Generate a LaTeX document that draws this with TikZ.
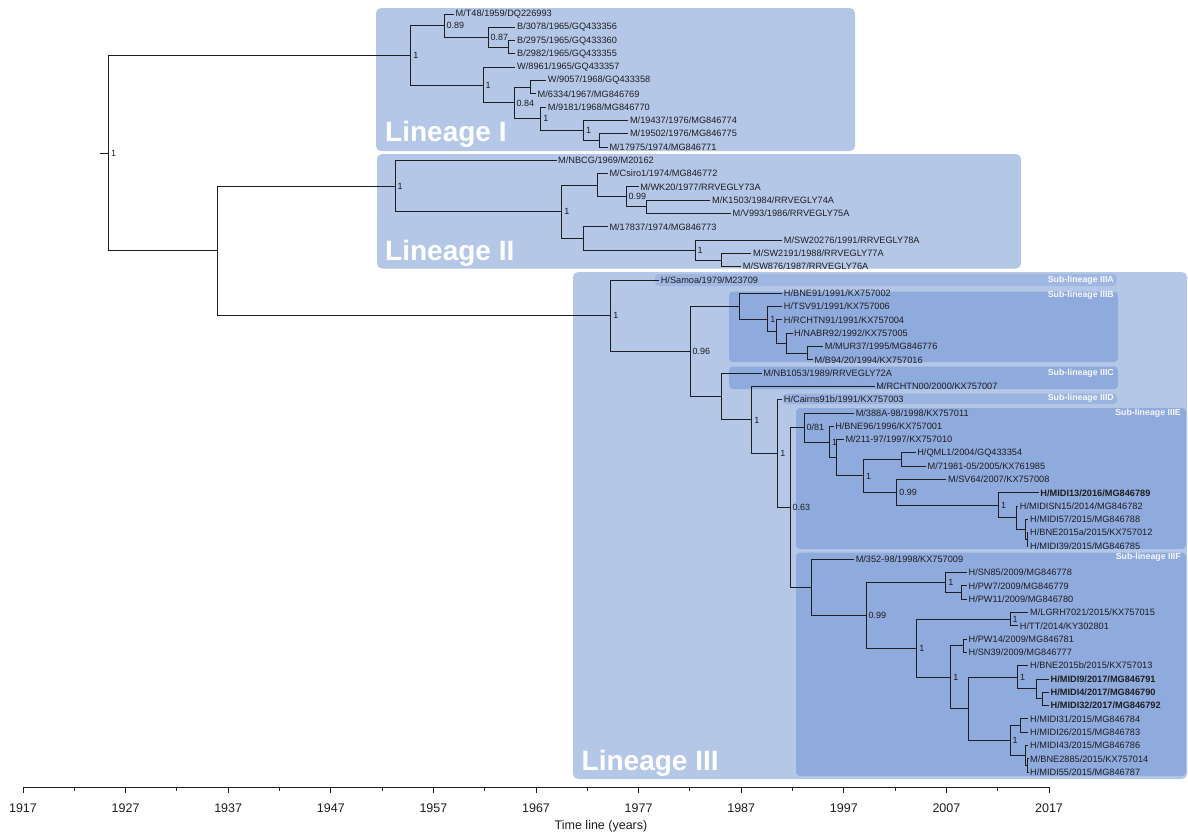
\documentclass[tikz,border=0pt]{standalone}
\usepackage{fontspec}
\setmainfont{Liberation Sans}
\usetikzlibrary{positioning, calc}
\definecolor{lincolor}{RGB}{180,199,231}
\definecolor{subcolor}{RGB}{143,170,220}
\definecolor{inkcolor}{RGB}{30,30,34}
% x of a sampling year, y of a tip (tips are 13.3px apart)
\newcommand{\yrx}[1]{23+(#1-1917)*10.26}
\newcommand{\lfy}[1]{14+13.3*(#1)}

\begin{document}
\begin{tikzpicture}[x=1pt, y=-1pt,
    branch/.style={draw=inkcolor, line width=1pt},
    leaf/.style={anchor=west, inner sep=1.5pt, text=inkcolor, font=\fontsize{9.2}{10}\selectfont},
    leafbold/.style={leaf, font=\fontsize{9.2}{10}\selectfont\bfseries},
    post/.style={anchor=west, inner sep=1pt, xshift=1.5pt, text=inkcolor, font=\fontsize{9}{10}\selectfont},
    linbox/.style={fill=lincolor, rounded corners=5pt},
    subbox/.style={fill=subcolor, rounded corners=4pt},
    linlab/.style={anchor=base west, inner sep=0pt, text=white, font=\fontsize{28}{30}\selectfont\bfseries},
    sublab/.style={anchor=east, inner sep=0pt, text=white!92!subcolor, font=\fontsize{8.8}{9}\selectfont\bfseries},
    axis/.style={draw=inkcolor, line width=1pt},
    yearlab/.style={inner sep=0pt, text=inkcolor, font=\fontsize{12.5}{14}\selectfont}]

    \useasboundingbox (0,0) rectangle (1188,835);

    % Lineage boxes
    \fill[linbox] (376,8) rectangle (855,151);
    \fill[linbox] (377,154) rectangle (1021,268.5);
    \fill[linbox] (573,272) rectangle (1187,779);
    \fill[subbox, fill=subcolor!55!lincolor] (655,274) rectangle (1117,286);
    \fill[subbox] (729,291.5) rectangle (1118,362);
    \fill[subbox] (729,366.5) rectangle (1118,389);
    \fill[subbox, fill=subcolor!70!lincolor] (783,393.5) rectangle (1117,404);
    \fill[subbox] (796,408) rectangle (1186,549);
    \fill[subbox] (796,552.5) rectangle (1186,776);

    \node[linlab] (labI) at (385,141.7) {Lineage I};
    \node[linlab] (labII) at (385,260.5) {Lineage II};
    \node[linlab] (labIII) at (581.5,770) {Lineage III};
    \node[sublab] (subA) at (1114,280) {Sub-lineage IIIA};
    \node[sublab] (subB) at (1114,295) {Sub-lineage IIIB};
    \node[sublab] (subC) at (1114,373.5) {Sub-lineage IIIC};
    \node[sublab] (subD) at (1114,398.5) {Sub-lineage IIID};
    \node[sublab] (subE) at (1181,413) {Sub-lineage IIIE};
    \node[sublab] (subF) at (1181,557) {Sub-lineage IIIF};

    % Tips
    \node[leaf] (t0) at ({\yrx{1959}},{\lfy{0}}) {M/T48/1959/DQ226993};
    \node[leaf] (t1) at ({\yrx{1965}},{\lfy{1}}) {B/3078/1965/GQ433356};
    \node[leaf] (t2) at ({\yrx{1965}},{\lfy{2}}) {B/2975/1965/GQ433360};
    \node[leaf] (t3) at ({\yrx{1965}},{\lfy{3}}) {B/2982/1965/GQ433355};
    \node[leaf] (t4) at ({\yrx{1965}},{\lfy{4}}) {W/8961/1965/GQ433357};
    \node[leaf] (t5) at ({\yrx{1968}},{\lfy{5}}) {W/9057/1968/GQ433358};
    \node[leaf] (t6) at ({\yrx{1967}},{\lfy{6}}) {M/6334/1967/MG846769};
    \node[leaf] (t7) at ({\yrx{1968}},{\lfy{7}}) {M/9181/1968/MG846770};
    \node[leaf] (t8) at ({\yrx{1976}},{\lfy{8}}) {M/19437/1976/MG846774};
    \node[leaf] (t9) at ({\yrx{1976}},{\lfy{9}}) {M/19502/1976/MG846775};
    \node[leaf] (t10) at ({\yrx{1974}},{\lfy{10}}) {M/17975/1974/MG846771};
    \node[leaf] (t11) at ({\yrx{1969}},{\lfy{11}}) {M/NBCG/1969/M20162};
    \node[leaf] (t12) at ({\yrx{1974}},{\lfy{12}}) {M/Csiro1/1974/MG846772};
    \node[leaf] (t13) at ({\yrx{1977}},{\lfy{13}}) {M/WK20/1977/RRVEGLY73A};
    \node[leaf] (t14) at ({\yrx{1984}},{\lfy{14}}) {M/K1503/1984/RRVEGLY74A};
    \node[leaf] (t15) at ({\yrx{1986}},{\lfy{15}}) {M/V993/1986/RRVEGLY75A};
    \node[leaf] (t16) at ({\yrx{1974}},{\lfy{16}}) {M/17837/1974/MG846773};
    \node[leaf] (t17) at ({\yrx{1991}},{\lfy{17}}) {M/SW20276/1991/RRVEGLY78A};
    \node[leaf] (t18) at ({\yrx{1988}},{\lfy{18}}) {M/SW2191/1988/RRVEGLY77A};
    \node[leaf] (t19) at ({\yrx{1987}},{\lfy{19}}) {M/SW876/1987/RRVEGLY76A};
    \node[leaf] (t20) at ({\yrx{1979}},{\lfy{20}}) {H/Samoa/1979/M23709};
    \node[leaf] (t21) at ({\yrx{1991}},{\lfy{21}}) {H/BNE91/1991/KX757002};
    \node[leaf] (t22) at ({\yrx{1991}},{\lfy{22}}) {H/TSV91/1991/KX757006};
    \node[leaf] (t23) at ({\yrx{1991}},{\lfy{23}}) {H/RCHTN91/1991/KX757004};
    \node[leaf] (t24) at ({\yrx{1992}},{\lfy{24}}) {H/NABR92/1992/KX757005};
    \node[leaf] (t25) at ({\yrx{1995}},{\lfy{25}}) {M/MUR37/1995/MG846776};
    \node[leaf] (t26) at ({\yrx{1994}},{\lfy{26}}) {M/B94/20/1994/KX757016};
    \node[leaf] (t27) at ({\yrx{1989}},{\lfy{27}}) {M/NB1053/1989/RRVEGLY72A};
    \node[leaf] (t28) at ({\yrx{2000}},{\lfy{28}}) {M/RCHTN00/2000/KX757007};
    \node[leaf] (t29) at ({\yrx{1991}},{\lfy{29}}) {H/Cairns91b/1991/KX757003};
    \node[leaf] (t30) at ({\yrx{1998}},{\lfy{30}}) {M/388A-98/1998/KX757011};
    \node[leaf] (t31) at ({\yrx{1996}},{\lfy{31}}) {H/BNE96/1996/KX757001};
    \node[leaf] (t32) at ({\yrx{1997}},{\lfy{32}}) {M/211-97/1997/KX757010};
    \node[leaf] (t33) at ({\yrx{2004}},{\lfy{33}}) {H/QML1/2004/GQ433354};
    \node[leaf] (t34) at ({\yrx{2005}},{\lfy{34}}) {M/71981-05/2005/KX761985};
    \node[leaf] (t35) at ({\yrx{2007}},{\lfy{35}}) {M/SV64/2007/KX757008};
    \node[leafbold] (t36) at ({\yrx{2016}},{\lfy{36}}) {H/MIDI13/2016/MG846789};
    \node[leaf] (t37) at ({\yrx{2014}},{\lfy{37}}) {H/MIDISN15/2014/MG846782};
    \node[leaf] (t38) at ({\yrx{2015}},{\lfy{38}}) {H/MIDI57/2015/MG846788};
    \node[leaf] (t39) at ({\yrx{2015}},{\lfy{39}}) {H/BNE2015a/2015/KX757012};
    \node[leaf] (t40) at ({\yrx{2015}},{\lfy{40}}) {H/MIDI39/2015/MG846785};
    \node[leaf] (t41) at ({\yrx{1998}},{\lfy{41}}) {M/352-98/1998/KX757009};
    \node[leaf] (t42) at ({\yrx{2009}},{\lfy{42}}) {H/SN85/2009/MG846778};
    \node[leaf] (t43) at ({\yrx{2009}},{\lfy{43}}) {H/PW7/2009/MG846779};
    \node[leaf] (t44) at ({\yrx{2009}},{\lfy{44}}) {H/PW11/2009/MG846780};
    \node[leaf] (t45) at ({\yrx{2015}},{\lfy{45}}) {M/LGRH7021/2015/KX757015};
    \node[leaf] (t46) at ({\yrx{2014}},{\lfy{46}}) {H/TT/2014/KY302801};
    \node[leaf] (t47) at ({\yrx{2009}},{\lfy{47}}) {H/PW14/2009/MG846781};
    \node[leaf] (t48) at ({\yrx{2009}},{\lfy{48}}) {H/SN39/2009/MG846777};
    \node[leaf] (t49) at ({\yrx{2015}},{\lfy{49}}) {H/BNE2015b/2015/KX757013};
    \node[leafbold] (t50) at ({\yrx{2017}},{\lfy{50}}) {H/MIDI9/2017/MG846791};
    \node[leafbold] (t51) at ({\yrx{2017}},{\lfy{51}}) {H/MIDI4/2017/MG846790};
    \node[leafbold] (t52) at ({\yrx{2017}},{\lfy{52}}) {H/MIDI32/2017/MG846792};
    \node[leaf] (t53) at ({\yrx{2015}},{\lfy{53}}) {H/MIDI31/2015/MG846784};
    \node[leaf] (t54) at ({\yrx{2015}},{\lfy{54}}) {H/MIDI26/2015/MG846783};
    \node[leaf] (t55) at ({\yrx{2015}},{\lfy{55}}) {H/MIDI43/2015/MG846786};
    \node[leaf] (t56) at ({\yrx{2015}},{\lfy{56}}) {M/BNE2885/2015/KX757014};
    \node[leaf] (t57) at ({\yrx{2015}},{\lfy{57}}) {H/MIDI55/2015/MG846787};

    % Internal nodes
    \coordinate (stub) at (99.5,{\lfy{10.46}});
    \coordinate (root) at (108.3,{\lfy{10.46}});
    \coordinate (split) at (217.4,{\lfy{17.81}});
    % lineage I
    \coordinate (linI) at (410.7,{\lfy{3.1094}});
    \coordinate (nA) at (444,{\lfy{0.875}});
    \coordinate (bC) at (488,{\lfy{1.75}});
    \coordinate (bI) at (508,{\lfy{2.5}});
    \coordinate (wC) at (483,{\lfy{5.3438}});
    \coordinate (n84) at (514,{\lfy{6.6875}});
    \coordinate (wI) at (530.7,{\lfy{5.5}});
    \coordinate (mK) at (540.7,{\lfy{7.875}});
    \coordinate (mJ) at (583.3,{\lfy{8.75}});
    \coordinate (mI) at (599.3,{\lfy{9.5}});
    % lineage II
    \coordinate (linII) at (395,{\lfy{12.9375}});
    \coordinate (n52) at (561.7,{\lfy{14.875}});
    \coordinate (cs) at (597.7,{\lfy{12.875}});
    \coordinate (wk) at (626,{\lfy{13.75}});
    \coordinate (kv) at (646,{\lfy{14.5}});
    \coordinate (n17) at (583.3,{\lfy{16.875}});
    \coordinate (sw) at (695,{\lfy{17.75}});
    \coordinate (sw2) at (721.7,{\lfy{18.5}});
    % lineage III
    \coordinate (linIII) at (610.7,{\lfy{22.6828}});
    \coordinate (n96) at (690,{\lfy{25.3656}});
    \coordinate (bRoot) at (739.2,{\lfy{21.9688}});
    \coordinate (ts) at (767.6,{\lfy{22.9375}});
    \coordinate (rc) at (776.3,{\lfy{23.875}});
    \coordinate (na) at (786.6,{\lfy{24.75}});
    \coordinate (mb) at (807,{\lfy{25.5}});
    \coordinate (nNB) at (721,{\lfy{28.7625}});
    \coordinate (nRc) at (751.7,{\lfy{30.525}});
    \coordinate (nCa) at (777.7,{\lfy{33.0503}});
    \coordinate (n63) at (790,{\lfy{37.1006}});
    \coordinate (eRoot) at (804,{\lfy{31.0918}});
    \coordinate (e8) at (829.3,{\lfy{32.1836}});
    \coordinate (e7) at (836.7,{\lfy{33.3672}});
    \coordinate (e6) at (863.3,{\lfy{34.7344}});
    \coordinate (eq) at (901.7,{\lfy{33.5}});
    \coordinate (e5) at (896.7,{\lfy{35.9688}});
    \coordinate (e4) at (998.3,{\lfy{36.9375}});
    \coordinate (e3) at (1016,{\lfy{37.875}});
    \coordinate (e2) at (1025,{\lfy{38.75}});
    \coordinate (e1) at (1027,{\lfy{39.5}});
    \coordinate (fRoot) at (811.7,{\lfy{43.1094}});
    \coordinate (f15) at (866,{\lfy{45.2188}});
    \coordinate (f2) at (945.7,{\lfy{42.75}});
    \coordinate (f1) at (961.7,{\lfy{43.5}});
    \coordinate (f14) at (916.7,{\lfy{47.6875}});
    \coordinate (f3) at (1010,{\lfy{45.5}});
    \coordinate (f13) at (950.7,{\lfy{49.875}});
    \coordinate (f4) at (963.3,{\lfy{47.5}});
    \coordinate (f12) at (968.3,{\lfy{52.25}});
    \coordinate (f7) at (1017.3,{\lfy{49.875}});
    \coordinate (f6) at (1036.7,{\lfy{50.75}});
    \coordinate (f5) at (1042.7,{\lfy{51.5}});
    \coordinate (f11) at (1010,{\lfy{54.625}});
    \coordinate (f8) at (1020.7,{\lfy{53.5}});
    \coordinate (f10) at (1025.5,{\lfy{55.75}});
    \coordinate (f9) at (1027.5,{\lfy{56.5}});

    % Branches
    \draw[branch] (stub) -- (root);
    \draw[branch] (root) |- (linI);
    \draw[branch] (root) |- (split);
    \draw[branch] (split) |- (linII);
    \draw[branch] (split) |- (linIII);

    \draw[branch] (linI) |- (nA);
    \draw[branch] (linI) |- (wC);
    \draw[branch] (nA) |- (t0.west);
    \draw[branch] (nA) |- (bC);
    \draw[branch] (bC) |- (t1.west);
    \draw[branch] (bC) |- (bI);
    \draw[branch] (bI) |- (t2.west);
    \draw[branch] (bI) |- (t3.west);
    \draw[branch] (wC) |- (t4.west);
    \draw[branch] (wC) |- (n84);
    \draw[branch] (n84) |- (wI);
    \draw[branch] (n84) |- (mK);
    \draw[branch] (wI) |- (t5.west);
    \draw[branch] (wI) |- (t6.west);
    \draw[branch] (mK) |- (t7.west);
    \draw[branch] (mK) |- (mJ);
    \draw[branch] (mJ) |- (t8.west);
    \draw[branch] (mJ) |- (mI);
    \draw[branch] (mI) |- (t9.west);
    \draw[branch] (mI) |- (t10.west);

    \draw[branch] (linII) |- (t11.west);
    \draw[branch] (linII) |- (n52);
    \draw[branch] (n52) |- (cs);
    \draw[branch] (n52) |- (n17);
    \draw[branch] (cs) |- (t12.west);
    \draw[branch] (cs) |- (wk);
    \draw[branch] (wk) |- (t13.west);
    \draw[branch] (wk) |- (kv);
    \draw[branch] (kv) |- (t14.west);
    \draw[branch] (kv) |- (t15.west);
    \draw[branch] (n17) |- (t16.west);
    \draw[branch] (n17) |- (sw);
    \draw[branch] (sw) |- (t17.west);
    \draw[branch] (sw) |- (sw2);
    \draw[branch] (sw2) |- (t18.west);
    \draw[branch] (sw2) |- (t19.west);

    \draw[branch] (linIII) |- (t20.west);
    \draw[branch] (linIII) |- (n96);
    \draw[branch] (n96) |- (bRoot);
    \draw[branch] (n96) |- (nNB);
    \draw[branch] (bRoot) |- (t21.west);
    \draw[branch] (bRoot) |- (ts);
    \draw[branch] (ts) |- (t22.west);
    \draw[branch] (ts) |- (rc);
    \draw[branch] (rc) |- (t23.west);
    \draw[branch] (rc) |- (na);
    \draw[branch] (na) |- (t24.west);
    \draw[branch] (na) |- (mb);
    \draw[branch] (mb) |- (t25.west);
    \draw[branch] (mb) |- (t26.west);
    \draw[branch] (nNB) |- (t27.west);
    \draw[branch] (nNB) |- (nRc);
    \draw[branch] (nRc) |- (t28.west);
    \draw[branch] (nRc) |- (nCa);
    \draw[branch] (nCa) |- (t29.west);
    \draw[branch] (nCa) |- (n63);
    \draw[branch] (n63) |- (eRoot);
    \draw[branch] (n63) |- (fRoot);

    \draw[branch] (eRoot) |- (t30.west);
    \draw[branch] (eRoot) |- (e8);
    \draw[branch] (e8) |- (t31.west);
    \draw[branch] (e8) |- (e7);
    \draw[branch] (e7) |- (t32.west);
    \draw[branch] (e7) |- (e6);
    \draw[branch] (e6) |- (eq);
    \draw[branch] (e6) |- (e5);
    \draw[branch] (eq) |- (t33.west);
    \draw[branch] (eq) |- (t34.west);
    \draw[branch] (e5) |- (t35.west);
    \draw[branch] (e5) |- (e4);
    \draw[branch] (e4) |- (t36.west);
    \draw[branch] (e4) |- (e3);
    \draw[branch] (e3) |- (t37.west);
    \draw[branch] (e3) |- (e2);
    \draw[branch] (e2) |- (t38.west);
    \draw[branch] (e2) |- (e1);
    \draw[branch] (e1) |- (t39.west);
    \draw[branch] (e1) |- (t40.west);

    \draw[branch] (fRoot) |- (t41.west);
    \draw[branch] (fRoot) |- (f15);
    \draw[branch] (f15) |- (f2);
    \draw[branch] (f15) |- (f14);
    \draw[branch] (f2) |- (t42.west);
    \draw[branch] (f2) |- (f1);
    \draw[branch] (f1) |- (t43.west);
    \draw[branch] (f1) |- (t44.west);
    \draw[branch] (f14) |- (f3);
    \draw[branch] (f14) |- (f13);
    \draw[branch] (f3) |- (t45.west);
    \draw[branch] (f3) |- (t46.west);
    \draw[branch] (f13) |- (f4);
    \draw[branch] (f13) |- (f12);
    \draw[branch] (f4) |- (t47.west);
    \draw[branch] (f4) |- (t48.west);
    \draw[branch] (f12) |- (f7);
    \draw[branch] (f12) |- (f11);
    \draw[branch] (f7) |- (t49.west);
    \draw[branch] (f7) |- (f6);
    \draw[branch] (f6) |- (t50.west);
    \draw[branch] (f6) |- (f5);
    \draw[branch] (f5) |- (t51.west);
    \draw[branch] (f5) |- (t52.west);
    \draw[branch] (f11) |- (f8);
    \draw[branch] (f11) |- (f10);
    \draw[branch] (f8) |- (t53.west);
    \draw[branch] (f8) |- (t54.west);
    \draw[branch] (f10) |- (t55.west);
    \draw[branch] (f10) |- (f9);
    \draw[branch] (f9) |- (t56.west);
    \draw[branch] (f9) |- (t57.west);

    % Posterior values
    \node[post] (p-root) at (root) {1};
    \node[post] (p-linI) at (linI) {1};
    \node[post] (p-nA) at (nA) {0.89};
    \node[post] (p-bC) at (bC) {0.87};
    \node[post] (p-wC) at (wC) {1};
    \node[post] (p-n84) at (n84) {0.84};
    \node[post] (p-mK) at (mK) {1};
    \node[post] (p-mJ) at (mJ) {1};
    \node[post] (p-linII) at (linII) {1};
    \node[post] (p-n52) at (n52) {1};
    \node[post] (p-wk) at (wk) {0.99};
    \node[post] (p-sw) at (sw) {1};
    \node[post] (p-linIII) at (linIII) {1};
    \node[post] (p-n96) at (n96) {0.96};
    \node[post] (p-ts) at (ts) {1};
    \node[post] (p-nRc) at (nRc) {1};
    \node[post] (p-nCa) at (nCa) {1};
    \node[post] (p-n63) at (n63) {0.63};
    \node[post] (p-eRoot) at (eRoot) {0/81};
    \node[post] (p-e8) at (e8) {1};
    \node[post] (p-e6) at (e6) {1};
    \node[post] (p-e5) at (e5) {0.99};
    \node[post] (p-e4) at (e4) {1};
    \node[post] (p-f15) at (f15) {0.99};
    \node[post] (p-f2) at (f2) {1};
    \node[post] (p-f14) at (f14) {1};
    \node[post] (p-f3) at (f3) {1};
    \node[post] (p-f13) at (f13) {1};
    \node[post] (p-f7) at (f7) {1};
    \node[post] (p-f11) at (f11) {1};

    % Time axis
    \coordinate (axL) at ({\yrx{1917}},787);
    \coordinate (axR) at ({\yrx{2017}},787);
    \draw[axis] (axL) -- (axR);
    \foreach \y in {1917,1927,...,2017} {
        \draw[axis] ({\yrx{\y}},787) -- ++(0,6);
        \node[yearlab] (yr\y) at ({\yrx{\y}},808) {\y};
    }
    \foreach \y in {1922,1932,...,2012}
        \draw[axis] ({\yrx{\y}},787) -- ++(0,3.5);
    \node[yearlab] (axtitle) at (601,826) {Time line (years)};

\end{tikzpicture}
\end{document}
